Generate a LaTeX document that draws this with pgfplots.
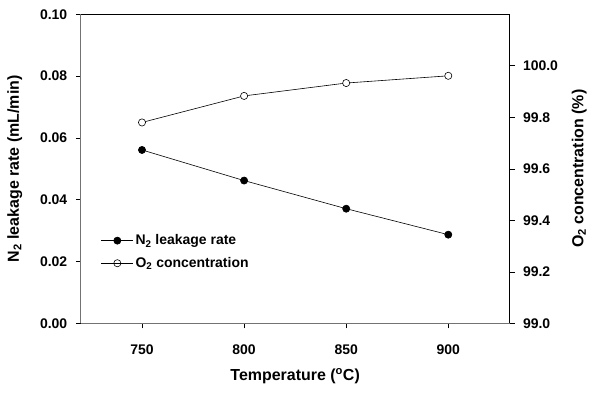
\documentclass[border={4pt 5pt 2pt 6pt}]{standalone}
\usepackage{pgfplots}
\pgfplotsset{compat=1.18}
\usepackage{fontspec}
\setmainfont{Liberation Sans}
\begin{document}
\begin{tikzpicture}
\pgfplotsset{
  common/.style={
    width=430pt, height=310pt, scale only axis,
    xmin=720, xmax=930,
    tick align=outside, major tick length=5pt,
    every tick/.style={black, line width=0.6pt},
    tick label style={font=\bfseries\fontsize{14}{16}\selectfont},
    label style={font=\bfseries\fontsize{16}{18}\selectfont},
    /pgf/number format/assume math mode=true,
    axis line style={-},
  },
  longleg/.style={legend image code/.code={%
    \draw[mark repeat=2,mark phase=2,##1] plot coordinates {(0pt,0pt) (16pt,0pt) (32pt,0pt)};}},
}
\begin{axis}[common,
  axis x line*=bottom, axis y line*=left,
  axis line style={-, draw=black!55, line width=0.8pt},
  ymin=0, ymax=0.1,
  ytick={0,0.02,0.04,0.06,0.08,0.10},
  yticklabel style={xshift=-5pt, /pgf/number format/.cd, fixed, fixed zerofill, precision=2},
  xtick={750,800,850,900},
  xticklabel style={yshift=-13pt, /pgf/number format/.cd, set thousands separator={}},
  xlabel={Temperature (\textsuperscript{o}C)},
  ylabel={N\textsubscript{2} leakage rate (mL/min)},
  xlabel style={yshift=-7pt},
  ylabel style={yshift=11pt},
  legend style={draw=none, fill=none, at={(0.04,0.30)}, anchor=north west,
    font=\bfseries\fontsize{14}{16}\selectfont, row sep=7pt},
  legend cell align=left,
]
\addplot[black, line width=0.6pt, mark=*, mark size=3.6pt, mark options={fill=black}, longleg]
  coordinates {(750,0.0561) (800,0.0462) (850,0.0371) (900,0.0287)};
\addlegendentry{N\textsubscript{2} leakage rate}
\addlegendimage{black, line width=0.6pt, mark=o, mark size=3.6pt, mark options={fill=white}, longleg}
\addlegendentry{O\textsubscript{2} concentration}
\end{axis}
\begin{axis}[common,
  axis x line*=top, axis y line*=right,
  axis line style={-, draw=black, line width=0.8pt},
  xtick=\empty,
  ymin=99.0, ymax=100.2,
  ytick={99.0,99.2,99.4,99.6,99.8,100.0},
  yticklabel style={xshift=5pt, /pgf/number format/.cd, fixed, fixed zerofill, precision=1},
  ylabel={O\textsubscript{2} concentration (\%)},
  ylabel style={yshift=-7pt},
]
\addplot[black, line width=0.6pt, mark=*, mark size=3.6pt, mark options={fill=white}]
  coordinates {(750,99.78) (800,99.883) (850,99.933) (900,99.961)};
\end{axis}
\end{tikzpicture}
\end{document}
